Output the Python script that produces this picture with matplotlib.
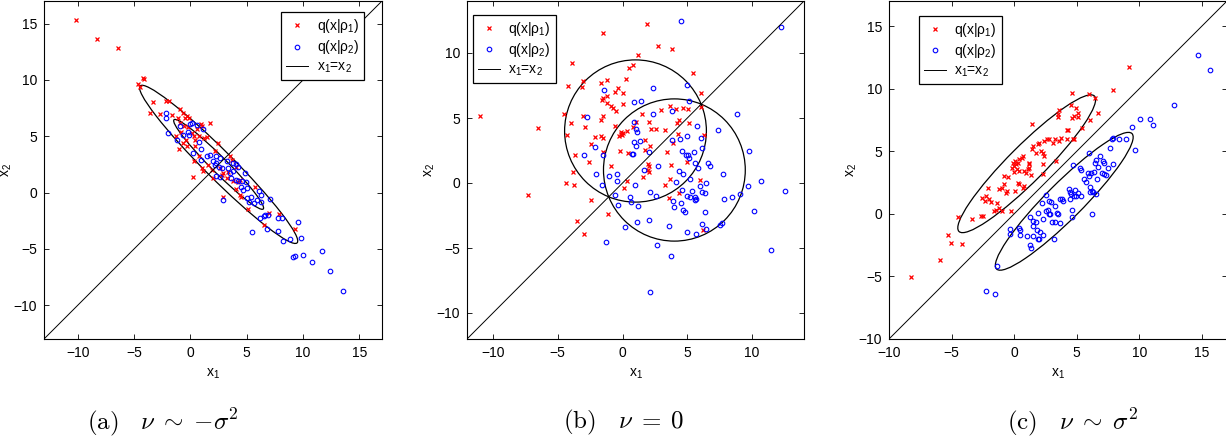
#!/usr/bin/env python3

import matplotlib
matplotlib.use('Agg')
import matplotlib.pyplot as plt
from matplotlib.patches import Ellipse


# ---- panel (a): nu ~ -sigma^2 ----
a_red_x = [-10.2, -8.3, -6.4, -4.2, -4.1, -4.7, -4.5, -3.3, -3.6, -2.7, -2.2, -1.9,
           -1.65, -0.9, -0.7, -1.1, -0.5, -0.3, -0.1, -0.9, -0.6, -0.8, -1.3, -1.0,
           -0.7, 0.1, 0.3, 0.4, 0.9, 1.0, 1.7, 0.8, 1.2, 0.4, 0.3, 0.2, 0.8, 1.0,
           1.1, 1.6, 2.0, 2.2, 2.4, 2.6, 2.9, 3.2, 2.9, 3.5, 3.7, 4.0, 3.8, 4.2,
           4.0, 4.4, 4.4, 4.5, 5.1, 6.5, 5.7, 7.0, 7.9, 9.3, -0.3, -0.4, 1.5, 2.8,
           3.3, 0.6, -0.2, 1.9]
a_red_y = [15.3, 13.6, 12.8, 10.2, 10.1, 9.6, 9.4, 8.0, 7.1, 7.0, 8.1, 8.1,
           6.9, 7.4, 7.1, 6.6, 6.6, 6.8, 6.6, 6.2, 5.9, 5.4, 5.0, 3.9,
           4.4, 5.3, 5.0, 4.7, 6.1, 5.9, 6.2, 5.0, 4.8, 4.1, 2.8, 1.4, 3.2, 2.2,
           1.9, 2.4, 1.3, 3.7, 4.4, 2.2, 1.7, 1.3, -0.4, 3.2, 2.9, 2.3, 1.0, 0.9,
           0.3, 1.1, -0.2, -0.4, -1.5, -2.9, 0.5, -1.8, -1.9, -3.2, 4.1, 4.7, 4.9, 1.6,
           1.8, 5.6, 5.8, 2.0]
a_blue_x = [-2.15, -2.2, -1.95, -1.2, -0.9, -0.7, -0.2, -0.1, 0.1, 0.0, 0.6, 1.1,
            0.8, 0.9, 0.2, 0.9, 1.45, 1.7, 2.0, 2.3, 2.2, 2.5, 2.3, 2.6, 2.3, 2.6,
            2.8, 3.2, 3.3, 3.5, 3.6, 3.8, 4.0, 4.2, 3.8, 4.0, 4.2, 4.6, 4.9, 4.5,
            4.7, 5.0, 5.0, 5.2, 5.4, 4.8, 5.6, 5.9, 6.3, 6.1, 6.25, 7.1, 6.2, 6.5,
            6.6, 6.9, 7.8, 8.1, 6.75, 7.8, 5.5, 2.9, 8.2, 8.8, 9.5, 9.8, 9.1, 9.3,
            10.0, 10.8, 11.65, 12.4, 13.5]
a_blue_y = [7.1, 6.6, 5.3, 4.7, 5.9, 5.1, 5.4, 5.1, 6.2, 6.1, 6.0, 5.6,
            4.5, 3.9, 3.5, 2.85, 3.2, 3.3, 2.8, 2.6, 2.4, 2.3, 3.2, 3.1, 1.5, 1.4,
            2.2, 2.8, 2.2, 1.7, 1.3, 2.6, 2.5, 2.3, 1.9, 1.1, 1.0, 1.0, 0.9, 0.5,
            0.2, 0.4, -0.5, -0.8, -0.4, 1.7, -0.9, -0.65, -0.8, 0.1, -0.2, -0.55, -2.3, -2.1,
            -2.0, -2.0, -2.3, -2.3, -3.2, -3.4, -3.5, -0.65, -4.3, -4.1, -2.6, -4.0, -5.75, -5.6,
            -5.5, -6.2, -5.2, -7.0, -8.7]

# ---- panel (b): nu = 0 ----
b_red_x = [-10.97, -7.26, -6.56, -4.49, -4.23, -4.31, -3.95, -3.87, -4.36, -3.79, -3.69,
           -3.72, -3.54, -3.0, -3.03, -3.13, -3.03, -2.87, -2.62, -2.46, -2.41, -2.15,
           -1.69, -1.59, -1.54, -1.54, -1.67, -1.54, -1.69, -1.49, -1.54, -1.23, -1.23,
           -1.23, -1.15, -0.87, -0.87, -0.77, -0.59, -0.54, -0.62, -0.36, -0.26, -0.15,
           -0.23, 0.05, 0.05, 0.0, -0.05, -0.1, 0.13, 0.26, 0.31, 0.38, 0.44, 0.51,
           0.82, 0.77, 1.0, 1.21, 1.54, 1.59, 1.72, 1.72, 1.92, 1.97, 2.03, 1.97, 2.05,
           2.05, 2.1, 2.23, 2.62, 2.72, 2.95, 3.28, 3.31, 3.41, 3.62, 3.69, 3.74, 3.69,
           3.82, 3.9, 4.15, 4.21, 4.33, 4.28, 4.33, 4.67, 5.0, 5.13, 5.08, 5.46, 6.03,
           6.03, 6.0, 6.28, 6.21]
b_red_y = [5.14, -0.9, 4.22, 5.27, 7.46, 3.73, 4.63, 9.2, -0.03, 0.85, 2.16,
           -0.15, -2.9, -3.91, 7.84, 7.35, 5.14, 4.27, 1.59, -1.29, 3.03, 3.55,
           7.66, 6.38, 6.53, 11.52, 4.88, 5.14, 3.6, 3.47, 2.37, 7.92, 6.68,
           6.17, -2.39, 5.91, 1.29, 5.78, 6.99, 5.53, 4.37, 7.33, 3.6, 3.8,
           2.44, 6.89, 6.09, 3.86, 3.73, 3.91, -0.39, 7.97, 0.13, 3.98, 2.31, 8.87,
           9.05, 4.32, 4.7, 9.87, 5.27, 0.44, 3.34, 2.52, 12.26, 1.47, 1.29, 0.98, 0.82,
           4.7, 2.83, 4.16, 4.16, 10.54, 5.6, 4.06, -0.15, 2.37, -1.16, 5.96, 1.36, 0.33,
           10.33, 3.08, 5.66, 4.63, 4.81, 3.75, -0.77, 5.78, 1.62, 4.58, 5.66, 8.48, 6.89,
           5.84, 0.26, 3.73, -3.6]
b_blue_x = [4.54, 12.26, -1.44, -2.74, -2.15, -2.95, -2.03, -1.59, -1.49, -1.03, -0.62,
            -0.46, -0.41, -0.38, -1.26, 0.18, 0.56, 0.67, 0.77, 0.72, 0.87, 1.41, 0.87,
            0.92, 1.03, 1.05, 1.1, 0.95, 1.23, 1.31, 1.13, 1.69, 2.03, 2.03, 2.15, 2.15,
            2.33, 2.33, 2.56, 2.69, 2.74, 3.56, 3.72, 3.79, 3.85, 3.9, 3.95, 4.13, 4.36,
            4.46, 4.49, 4.59, 4.62, 4.64, 4.67, 4.79, 4.87, 4.97, 4.97, 4.97, 5.1, 5.05,
            5.13, 5.18, 4.97, 5.18, 5.33, 5.51, 5.56, 5.64, 5.56, 5.62, 5.72, 5.69, 5.85,
            5.95, 6.03, 6.1, 6.1, 6.13, 6.33, 6.41, 6.38, 6.46, 6.59, 6.74, 7.36, 7.51,
            7.67, 7.74, 7.79, 8.41, 8.82, 9.03, 9.69, 9.74, 10.13, 10.67, 11.44, 12.51]
b_blue_y = [12.47, 12.01, 7.15, 5.09, 2.78, 2.13, 0.67, -0.18, 2.19, 0.57, -0.95,
            0.13, 0.69, -1.7, -4.55, -3.42, -1.05, -1.44, 2.21, 2.21, 6.25, 6.32, 4.7,
            3.14, 2.88, 4.19, 3.91, -0.13, -1.8, 3.24, -3.03, 1.03, 2.37, -2.83, -0.72, -8.41,
            7.33, 5.32, -0.98, -4.78, 1.29, -3.32, -5.63, 5.53, 3.29, -1.36, -1.83, 0.08, 0.9,
            3.39, -1.57, 2.44, -0.54, 0.69, -2.06, -2.21, 2.13, 3.65, 7.53, -3.8, 6.3, 2.19,
            1.93, 0.33, -0.98, -1.08, -0.64, 2.39, -1.29, -1.23, -1.08, 1.52, 4.37, -3.91, 1.16,
            -0.26, 3.47, 2.72, -3.16, -0.72, -0.8, 0.0, -2.26, -3.5, 1.54, 1.29, 4.11, -3.24,
            -3.11, 0.72, -1.23, -1.05, 5.32, -0.85, -0.23, 2.44, -2.19, 0.18, -5.14, -0.64]

# ---- panel (c): nu ~ sigma^2 ----
c_red_x = [-8.24, -5.92, -5.31, -5.07, -4.13, -4.45, -3.39, -2.67, -2.48, -2.59, -2.35,
           -2.27, -2.05, -2.08, -1.87, -1.65, -1.47, -1.39, -1.2, -1.01, -1.2, -1.01,
           -0.8, -0.67, -0.59, -0.85, -0.51, -0.27, -0.19, 0.0, 0.13, -0.13, 0.08, 0.27,
           0.4, -0.05, 0.19, 0.4, 0.08, 0.27, 0.4, 0.67, 0.8, 0.61, 0.67, 0.75, 0.93,
           1.07, 1.2, 1.2, 1.15, 1.33, 1.39, 1.47, 1.44, 1.73, 1.87, 2.0, 2.13, 2.27,
           2.4, 2.32, 2.32, 2.4, 2.61, 2.75, 3.07, 3.28, 3.33, 3.47, 3.55, 3.47, 3.6,
           3.73, 4.19, 4.29, 4.21, 4.59, 4.53, 4.61, 4.8, 4.67, 4.8, 4.93, 5.07, 5.12,
           5.39, 6.0, 6.05, 6.48, 6.72, 7.89, 9.17]
c_red_y = [-5.07, -3.65, -1.68, -2.32, -2.43, -0.27, -0.43, -0.21, -0.21, 1.28, 1.01,
           1.41, 1.15, 2.08, 0.96, 0.19, 0.27, 0.83, 0.48, 0.21, 1.95, 2.08,
           2.35, 1.68, 1.81, 3.01, 2.96, 0.19, 3.68, 3.81, 3.95, 4.08, 4.21, 4.08,
           4.35, 3.33, 3.55, 3.41, 1.81, 2.43, 2.35, 2.08, 2.21, 4.48, 4.61, 3.41, 3.28,
           3.55, 3.68, 3.95, 4.08, 3.09, 5.15, 5.41, 7.17, 4.88, 5.55, 5.68, 5.01, 4.88,
           4.61, 3.95, 3.2, 5.81, 5.95, 6.0, 5.68, 5.95, 4.21, 7.95, 8.29, 7.76, 5.81,
           6.08, 6.69, 6.67, 6.0, 9.63, 8.67, 7.68, 7.81, 5.95, 5.95, 8.48, 8.08, 7.73,
           6.88, 9.55, 7.47, 9.25, 8.08, 9.89, 11.73]
c_blue_x = [-2.27, -1.55, -1.36, -0.35, -0.35, 0.4, 0.45, 0.48, 1.01, 1.25, 1.28, 1.33,
            1.47, 1.47, 1.52, 1.79, 1.87, 2.0, 2.05, 1.87, 1.73, 2.21, 2.32, 2.32, 2.53,
            2.53, 2.67, 2.75, 2.88, 2.8, 2.93, 3.01, 3.2, 3.28, 3.28, 3.39, 3.52, 3.65,
            3.79, 3.87, 3.68, 4.35, 4.43, 4.53, 4.48, 4.59, 4.59, 4.72, 4.83, 4.8, 4.93,
            5.09, 5.25, 5.33, 5.33, 5.55, 5.73, 5.92, 6.0, 6.08, 6.0, 6.13, 6.08, 6.19,
            6.27, 6.21, 6.37, 6.48, 6.53, 6.59, 6.53, 6.67, 6.88, 6.99, 7.12, 7.17, 7.2,
            7.33, 7.47, 7.65, 7.79, 7.92, 7.92, 8.35, 8.96, 9.41, 9.65, 10.03, 10.85,
            11.12, 12.8, 14.72, 15.63]
c_blue_y = [-6.16, -6.37, -4.16, -1.25, -1.65, -1.12, -1.33, -1.73, -1.79, -0.27, -2.53, -2.72,
            -0.59, -0.99, -1.79, -1.33, -2.05, -2.05, -1.47, 0.08, -0.67, 0.83, -0.45, -1.73, 1.47,
            0.21, 0.29, 0.0, -0.05, 1.01, 0.96, -0.67, -2.05, -0.64, 0.61, 0.03, -0.05, -0.77,
            1.2, 1.01, 1.15, 2.0, 1.73, 1.55, 1.15, 0.29, -0.24, 3.87, 1.89, 1.41, 1.41,
            1.63, 3.68, 3.49, 1.41, 2.75, 2.53, 3.28, 3.01, 2.16, 4.83, 3.28, 1.73, 1.81,
            1.73, 0.0, 3.33, 4.08, 1.55, 2.8, 4.27, 3.76, 4.61, 3.28, 4.21, 4.08, 3.15,
            3.09, 3.68, 5.28, 5.95, 6.03, 4.0, 6.0, 5.97, 6.93, 5.09, 7.6, 7.55,
            7.07, 8.72, 12.72, 11.52]

# ellipse params: (cx, cy, semi-major, semi-minor, angle deg)
a_ellipses = [(2.5, 2.5, 9.85, 1.25, -45), (2.5, 2.5, 5.6, 0.7, -45)]
b_ellipses = [(1.0, 4.0, 5.47, 5.47, 0), (4.0, 1.0, 5.47, 5.47, 0)]
c_ellipses = [(1.0, 4.0, 7.65, 1.45, 45), (4.0, 1.0, 7.65, 1.45, 45)]

panel_limits = [(-13, 17), (-12, 14), (-10, 17)]
legend_labels = ['q(x|ρ$_1$)', 'q(x|ρ$_2$)', 'x$_1$=x$_2$']
captions = [r'$\mathrm{(a)}\ \ \ \nu\;{\sim}\;{-}\sigma^2$',
            r'$\mathrm{(b)}\ \ \ \nu\;{=}\;0$',
            r'$\mathrm{(c)}\ \ \ \nu\;{\sim}\;\sigma^2$']

plt.rcParams['font.family'] = ['Liberation Sans', 'DejaVu Sans']
plt.rcParams['mathtext.fontset'] = 'custom'
plt.rcParams['mathtext.rm'] = 'Liberation Sans'
plt.rcParams['mathtext.it'] = 'Liberation Sans:italic'
plt.rcParams['font.size'] = 10


def draw_panel(ax, rx, ry, bx, by, ellipses, lims, legend_loc, legend_anchor):
    lo, hi = lims
    ax.plot(rx, ry, 'x', color='red', ms=3.5, mew=0.9, label=legend_labels[0])
    ax.plot(bx, by, 'o', color='blue', mfc='none', ms=3.3, mew=0.8, label=legend_labels[1])
    ax.plot([lo, hi], [lo, hi], '-', color='black', lw=0.7, label=legend_labels[2])
    for cx, cy, sa, sb, ang in ellipses:
        ax.add_patch(Ellipse((cx, cy), 2 * sa, 2 * sb, angle=ang,
                             fill=False, edgecolor='black', lw=0.9))
    ax.set_xlim(lo, hi)
    ax.set_ylim(lo, hi)
    ax.set_xticks(range(-10, hi + 1, 5))
    ax.set_yticks(range(-10, hi + 1, 5))
    ax.tick_params(direction='in', top=True, right=True, length=3.5, width=0.6,
                   labelsize=10, pad=5)
    for s in ax.spines.values():
        s.set_linewidth(0.8)
    ax.set_xlabel(r'x$_1$')
    ax.set_ylabel(r'x$_2$')
    ax.xaxis.set_label_coords(0.5, -0.083)
    ax.yaxis.set_label_coords(-0.088, 0.5)
    leg = ax.legend(loc=legend_loc, bbox_to_anchor=legend_anchor, borderaxespad=0,
                    numpoints=1, fontsize=10, fancybox=False, framealpha=1,
                    edgecolor='black', handlelength=1.6, handletextpad=0.6,
                    labelspacing=0.25, borderpad=0.35)
    leg.get_frame().set_linewidth(0.9)


fig = plt.figure(figsize=(12.26, 4.43), dpi=100)
W, H = 1226.0, 443.0
ax_a = fig.add_axes([44 / W, 104 / H, 338 / W, 338 / H])
ax_b = fig.add_axes([467 / W, 104 / H, 337 / W, 338 / H])
ax_c = fig.add_axes([889 / W, 104 / H, 338 / W, 338 / H])

draw_panel(ax_a, a_red_x, a_red_y, a_blue_x, a_blue_y, a_ellipses, panel_limits[0],
           'upper right', (0.947, 0.967))
draw_panel(ax_b, b_red_x, b_red_y, b_blue_x, b_blue_y, b_ellipses, panel_limits[1],
           'upper left', (0.018, 0.959))
draw_panel(ax_c, c_red_x, c_red_y, c_blue_x, c_blue_y, c_ellipses, panel_limits[2],
           'upper left', (0.089, 0.956))

for xc, cap in zip([163 / W, 624 / W, 1072 / W], captions):
    fig.text(xc, 1 - 422 / H, cap, ha='center', va='center', fontsize=18,
             math_fontfamily='cm')

fig.savefig('out.png', dpi=100)
